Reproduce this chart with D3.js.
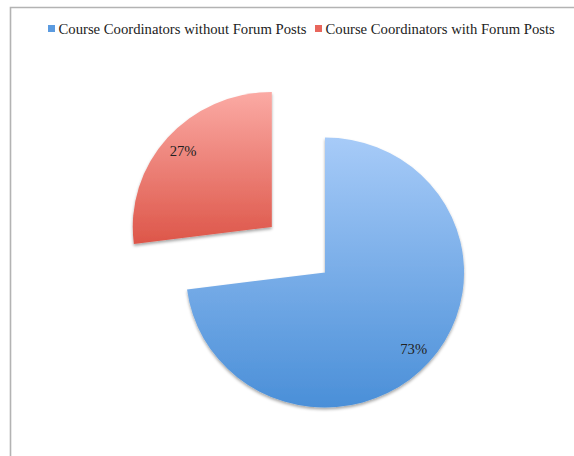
<!DOCTYPE html>
<html>
<head>
<meta charset="utf-8">
<script src="https://cdn.jsdelivr.net/npm/d3@7"></script>
<style>
html,body{margin:0;padding:0;background:#fff;}
svg{display:block;}
</style>
</head>
<body>
<svg id="chart" width="574" height="456"></svg>
<script>
const categories = ["Course Coordinators without Forum Posts", "Course Coordinators with Forum Posts"];
const values = [73, 27];
const labels = ["73%", "27%"];
const colorsTop = ["#a7cbf8", "#fbaaa4"];
const colorsBottom = ["#4a8fd8", "#dd5649"];
const legendColors = ["#5b9be0", "#e8665c"];
const explode = [0, 1];

const svg = d3.select("#chart");
const W = 574, H = 456;
const font = "'Liberation Serif', 'DejaVu Serif', serif";

// frame
svg.append("path")
  .attr("d", "M10.5,460 L10.5,7.5 L580,7.5")
  .attr("fill", "none").attr("stroke", "#b3b3b3").attr("stroke-width", 1.6);

const defs = svg.append("defs");
categories.forEach((c, i) => {
  const g = defs.append("linearGradient").attr("id", "grad" + i)
    .attr("x1", 0).attr("y1", 0).attr("x2", 0).attr("y2", 1);
  g.append("stop").attr("offset", "0%").attr("stop-color", colorsTop[i]);
  g.append("stop").attr("offset", "100%").attr("stop-color", colorsBottom[i]);
});
const f = defs.append("filter").attr("id", "shadow")
  .attr("x", "-20%").attr("y", "-20%").attr("width", "140%").attr("height", "140%");
f.append("feDropShadow").attr("dx", 0).attr("dy", 2).attr("stdDeviation", 1.8)
  .attr("flood-color", "#000").attr("flood-opacity", 0.35);

// legend
const leg = svg.append("g").attr("font-family", font).attr("font-size", 14.7).attr("fill", "#222");
const legX = [48, 315];
categories.forEach((c, i) => {
  leg.append("rect").attr("x", legX[i]).attr("y", 25).attr("width", 7).attr("height", 7)
    .attr("fill", legendColors[i]);
  leg.append("text").attr("x", legX[i] + 10.5).attr("y", 34).text(c);
});

// pie
const r = 135;
const cx = 325, cy = 272.5;
const sx = 1.03;
const pie = d3.pie().sort(null).value(d => d)(values);
const arc = d3.arc().innerRadius(0).outerRadius(r);
const root = svg.append("g").attr("transform", `translate(${cx},${cy}) scale(${sx},1)`);

pie.forEach((p, i) => {
  const mid = (p.startAngle + p.endAngle) / 2;
  const off = explode[i] * 0.51 * r;
  const ox = Math.sin(mid) * off, oy = -Math.cos(mid) * off;
  const g = root.append("g").attr("transform", `translate(${ox},${oy})`);
  g.append("path").attr("d", arc(p)).attr("fill", `url(#grad${i})`).attr("filter", "url(#shadow)");
  const lr = 0.85 * r;
  const lx = Math.sin(mid) * lr, ly = -Math.cos(mid) * lr;
  g.append("text").attr("transform", `translate(${lx},${ly}) scale(${1/sx},1)`)
    .attr("text-anchor", "middle").attr("dy", "0.35em")
    .attr("font-family", font).attr("font-size", 14.7).attr("fill", "#222")
    .text(labels[i]);
});
</script>
</body>
</html>
